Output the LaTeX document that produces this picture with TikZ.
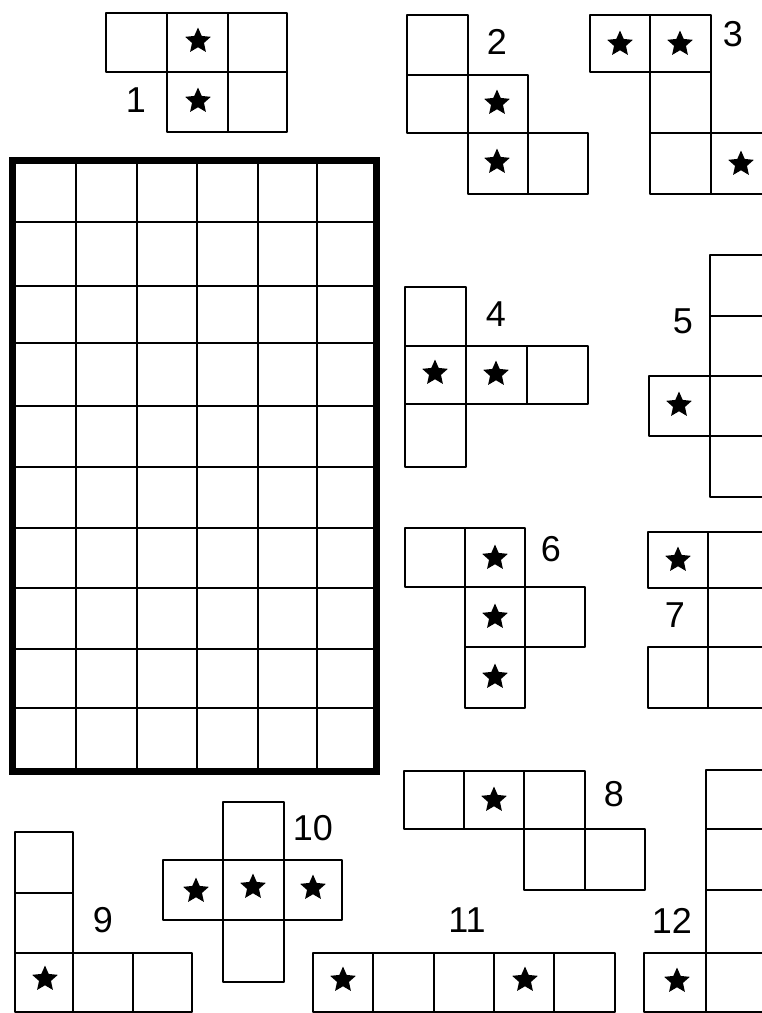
\documentclass[tikz,border=0pt]{standalone}
\usepackage{fontspec}
\setmainfont{Liberation Sans}
\usetikzlibrary{shapes.geometric}
\tikzset{
  cellline/.style={line width=1.7pt, line join=round, line cap=round},
  gridline/.style={line width=2pt},
  gridborder/.style={line width=7pt, line join=miter},
  starmark/.style={star, star points=5, star point ratio=2.15, minimum size=27pt, inner sep=0pt, fill=black, draw=none},
  numlabel/.style={font=\fontsize{36}{36}\selectfont, inner sep=0pt}
}
\newcommand{\cellbox}[4]{\draw[cellline] (#1,#2) rectangle (#3,#4);}
\begin{document}
\begin{tikzpicture}[x=1pt,y=-1pt]
\useasboundingbox (0,0) rectangle (762,1013);
\fill[white] (0,0) rectangle (762,1013);
\clip (0,0) rectangle (762,1013);

% big grid
\foreach \xx in {76,136.5,197,257.5,317}
  \draw[gridline] (\xx,160) -- (\xx,771);
\foreach \yy in {222,286,343,406,467,528,588,649,708}
  \draw[gridline] (12,\yy) -- (376,\yy);
\draw[gridborder] (12,160) rectangle (376,771);

% figure 1
\cellbox{106}{13}{167}{72}
\cellbox{167}{13}{228}{72}
\cellbox{228}{13}{287}{72}
\cellbox{167}{72}{228}{132}
\cellbox{228}{72}{287}{132}
\node[starmark] (s1a) at (198,41) {};
\node[starmark] (s1b) at (198,101) {};
\node[numlabel] (l1) at (136,100) {1};

% figure 2
\cellbox{407}{15}{468}{75}
\cellbox{407}{75}{468}{133}
\cellbox{468}{75}{528}{133}
\cellbox{468}{133}{528}{194}
\cellbox{528}{133}{588}{194}
\node[starmark] (s2a) at (497,103) {};
\node[starmark] (s2b) at (497,162) {};
\node[numlabel] (l2) at (497,42) {2};

% figure 3
\cellbox{590}{15}{650}{72}
\cellbox{650}{15}{711}{72}
\cellbox{650}{72}{711}{133}
\cellbox{650}{133}{711}{194}
\cellbox{711}{133}{771}{194}
\node[starmark] (s3a) at (620,44) {};
\node[starmark] (s3b) at (680,44) {};
\node[starmark] (s3c) at (741,164) {};
\node[numlabel] (l3) at (733,34) {3};

% figure 4
\cellbox{405}{287}{466}{346}
\cellbox{405}{346}{466}{404}
\cellbox{466}{346}{527}{404}
\cellbox{527}{346}{588}{404}
\cellbox{405}{404}{466}{467}
\node[starmark] (s4a) at (435,373) {};
\node[starmark] (s4b) at (496,374) {};
\node[numlabel] (l4) at (496,314) {4};

% figure 5
\cellbox{710}{255}{771}{316}
\cellbox{710}{316}{771}{376}
\cellbox{710}{376}{771}{436}
\cellbox{710}{436}{771}{497}
\cellbox{649}{376}{710}{436}
\node[starmark] (s5a) at (679,405) {};
\node[numlabel] (l5) at (683,321) {5};

% figure 6
\cellbox{405}{528}{465}{587}
\cellbox{465}{528}{525}{587}
\cellbox{465}{587}{525}{647}
\cellbox{525}{587}{585}{647}
\cellbox{465}{647}{525}{708}
\node[starmark] (s6a) at (495,558) {};
\node[starmark] (s6b) at (495,617) {};
\node[starmark] (s6c) at (495,677) {};
\node[numlabel] (l6) at (551,549) {6};

% figure 7
\cellbox{648}{532}{708}{588}
\cellbox{708}{532}{768}{588}
\cellbox{708}{588}{768}{647}
\cellbox{648}{647}{708}{708}
\cellbox{708}{647}{768}{708}
\node[starmark] (s7a) at (678,560) {};
\node[numlabel] (l7) at (675,615) {7};

% figure 8
\cellbox{404}{771}{464}{829}
\cellbox{464}{771}{524}{829}
\cellbox{524}{771}{585}{829}
\cellbox{524}{829}{585}{890}
\cellbox{585}{829}{645}{890}
\node[starmark] (s8a) at (494,800) {};
\node[numlabel] (l8) at (614,794) {8};

% figure 9
\cellbox{15}{832}{73}{893}
\cellbox{15}{893}{73}{953}
\cellbox{15}{953}{73}{1012}
\cellbox{73}{953}{133}{1012}
\cellbox{133}{953}{192}{1012}
\node[starmark] (s9a) at (45,979) {};
\node[numlabel] (l9) at (103,920) {9};

% figure 10
\cellbox{223}{802}{284}{860}
\cellbox{163}{860}{223}{920}
\cellbox{223}{860}{284}{920}
\cellbox{284}{860}{342}{920}
\cellbox{223}{920}{284}{982}
\node[starmark] (s10a) at (196,891) {};
\node[starmark] (s10b) at (253,887) {};
\node[starmark] (s10c) at (313,888) {};
\node[numlabel] (l10) at (313,828) {10};

% figure 11
\cellbox{313}{953}{373}{1012}
\cellbox{373}{953}{434}{1012}
\cellbox{434}{953}{494}{1012}
\cellbox{494}{953}{554}{1012}
\cellbox{554}{953}{615}{1012}
\node[starmark] (s11a) at (343,980) {};
\node[starmark] (s11b) at (525,980) {};
\node[numlabel] (l11) at (467,920) {11};

% figure 12
\cellbox{644}{953}{706}{1012}
\cellbox{706}{770}{767}{829}
\cellbox{706}{829}{767}{890}
\cellbox{706}{890}{767}{953}
\cellbox{706}{953}{767}{1012}
\node[starmark] (s12a) at (677,981) {};
\node[numlabel] (l12) at (672,921) {12};
\end{tikzpicture}
\end{document}
